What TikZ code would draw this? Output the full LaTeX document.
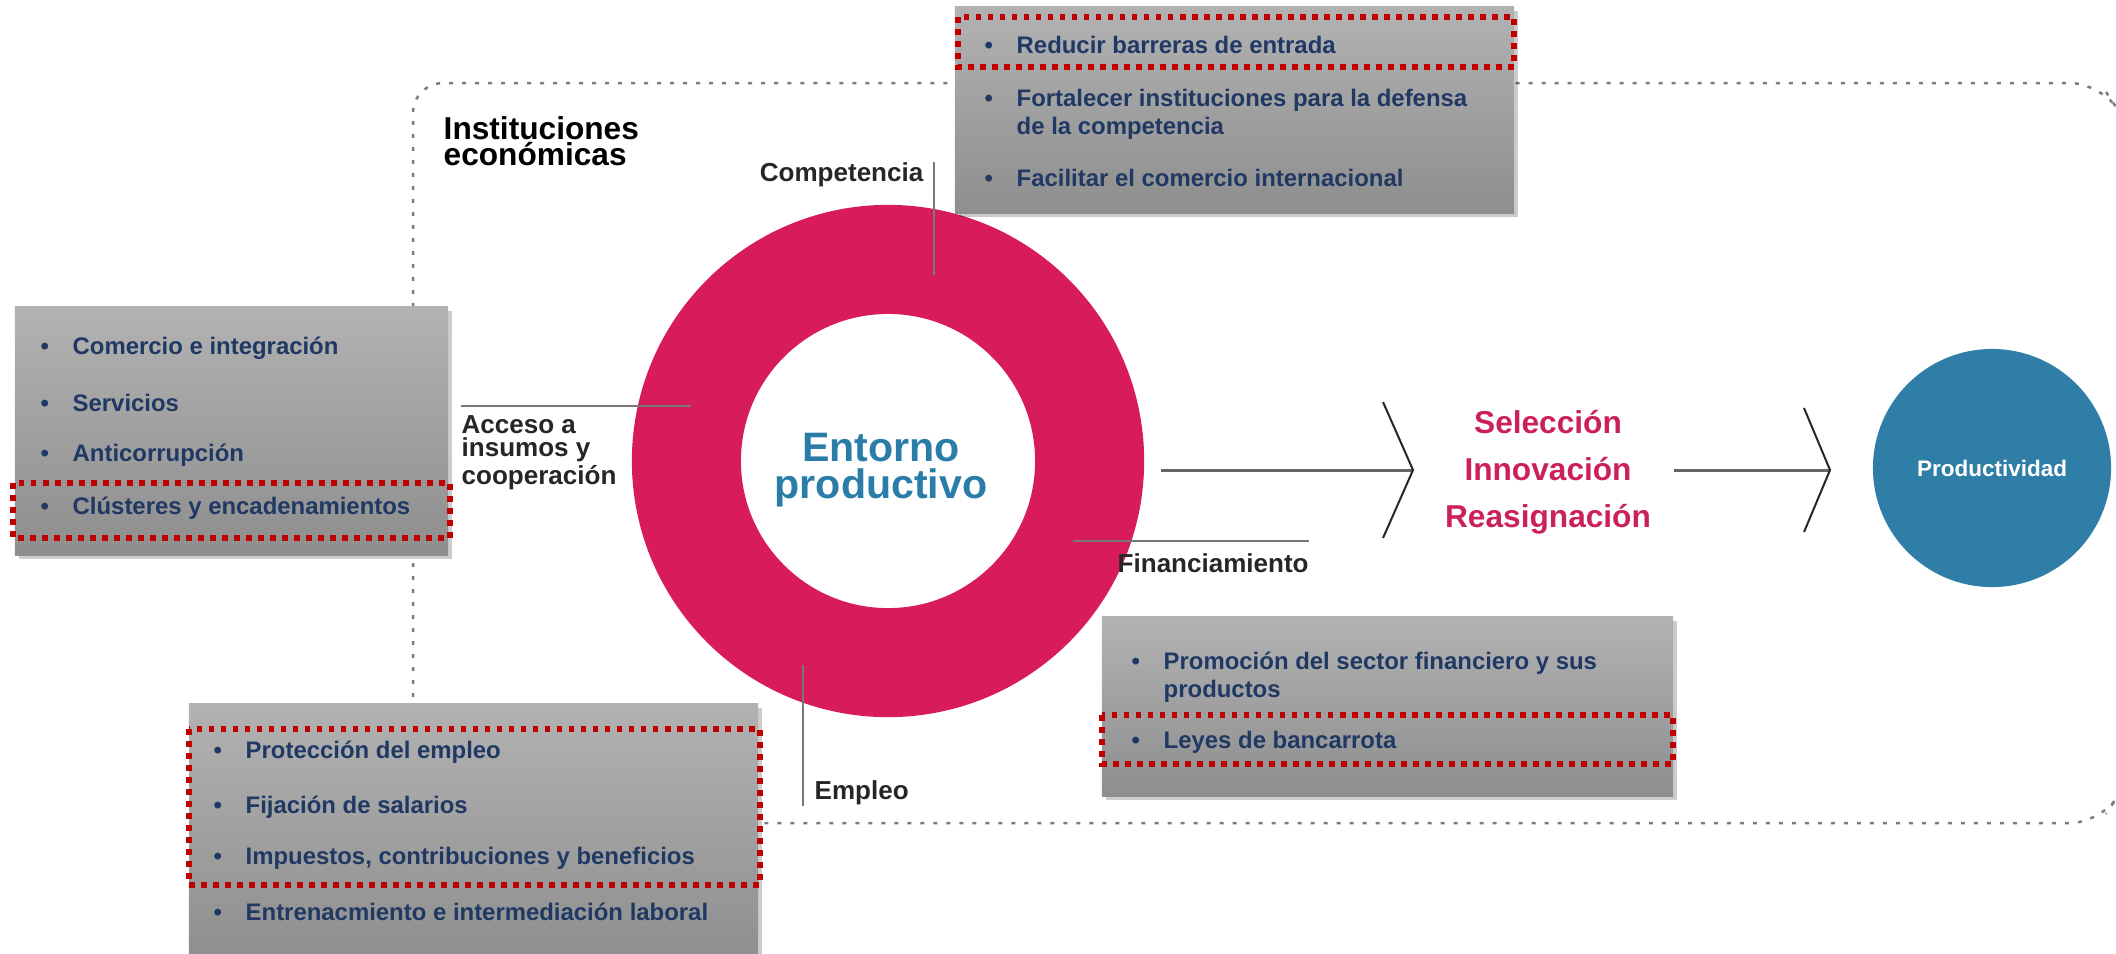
\documentclass[tikz,border=0pt]{standalone}
\usepackage{fontspec}
\setmainfont{Liberation Sans}
\usepackage{tikz}
\usetikzlibrary{shapes.geometric,shadows}

\definecolor{ringred}{RGB}{216,27,91}
\definecolor{entblue}{RGB}{42,125,168}
\definecolor{prodblue}{RGB}{47,126,167}
\definecolor{selred}{RGB}{204,32,92}
\definecolor{navy}{RGB}{31,56,100}
\definecolor{markred}{RGB}{192,0,0}
\definecolor{boxtop}{RGB}{178,178,178}
\definecolor{boxbot}{RGB}{142,142,142}
\definecolor{framegray}{RGB}{125,125,125}
\definecolor{leadgray}{RGB}{120,120,120}

\newcommand{\bul}{\makebox[0.32cm][l]{•}}
\newcommand{\boxfont}{\fontsize{6.8}{8}\selectfont\bfseries}
\newcommand{\lblfont}{\fontsize{7.4}{6.5}\selectfont\bfseries}

\tikzset{
	graybox/.style={rectangle, inner sep=0pt, top color=boxtop, bottom color=boxbot,
		drop shadow={shadow xshift=0.04cm, shadow yshift=-0.04cm, fill=black, opacity=0.2}},
	item/.style={anchor=west, inner sep=0pt, text=navy, font=\boxfont, align=left},
	redmark/.style={draw=markred, line width=0.055cm, dash pattern=on 0.055cm off 0.065cm},
	lbl/.style={inner sep=0pt, font=\lblfont, text=black!85, align=left},
	leader/.style={draw=leadgray, line width=0.02cm},
	flowline/.style={draw=black!60, line width=0.03cm},
	chevron/.style={draw=black!85, line width=0.02cm},
	frameline/.style={draw=framegray, line width=0.025cm, dash pattern=on 0.04cm off 0.09cm},
}

\begin{document}
\begin{tikzpicture}[x=0.01cm, y=-0.01cm]
	\useasboundingbox (0,0) rectangle (2116,953);
	% Frame, ring and labels:
	\draw[frameline, rounded corners=0.3cm] (2106,92) -- (2100,83) -- (413,83) -- (413,823) -- (2100,823) -- (2106,814);
	\node[lbl, anchor=north west, font=\fontsize{9}{7.4}\selectfont\bfseries, text=black] (inst) at (443,116) {Instituciones\\econ\'omicas};
	\node[circle, draw=ringred, line width=1.09cm, minimum size=4.03cm, inner sep=0pt] (ent) at (888,461) {};
	\node[inner sep=0pt, text=entblue, align=center, font=\fontsize{11.7}{10.4}\selectfont\bfseries] (entlbl) at (881,470) {Entorno\\productivo};
	\node[lbl, anchor=east] (comp) at (924,175) {Competencia};
	\node[lbl, anchor=north west] (acc) at (461,415) {Acceso a\\insumos y\\cooperaci\'on};
	\node[lbl, anchor=west] (fin) at (1117,563) {Financiamiento};
	\node[lbl, anchor=west] (emp) at (814,793) {Empleo};
	\coordinate (compend) at (934,275);
	\coordinate (accend) at (691,406);
	\coordinate (finend) at (1073,541);
	\coordinate (empend) at (803,665);
	\draw[leader] (compend) -- (compend |- comp.north);
	\draw[leader] (accend) -- (accend -| acc.west);
	\draw[leader] (finend) -- (finend -| fin.east);
	\draw[leader] (empend) -- (empend |- emp.south);

	% Boxes:
	\node[graybox, minimum width=5.59cm, minimum height=2.06cm] (compbox) at (1234.5,110) {};
	\draw[redmark] (958,17) rectangle (1514,67);
	\node[item] (c1) at (984,45) {\bul Reducir barreras de entrada};
	\node[item] (c2) at (984,114) {\bul Fortalecer instituciones para la defensa\\\hspace*{0.32cm}de la competencia};
	\node[item] (c3) at (984,178) {\bul Facilitar el comercio internacional};

	\node[graybox, minimum width=4.33cm, minimum height=2.48cm] (accbox) at (231.5,431) {};
	\draw[redmark] (13,483) rectangle (450,538);
	\node[item] (a1) at (40,348) {\bul Comercio e integraci\'on};
	\node[item] (a2) at (40,403) {\bul Servicios};
	\node[item] (a3) at (40,455) {\bul Anticorrupci\'on};
	\node[item] (a4) at (40,508) {\bul Cl\'usteres y encadenamientos};

	\node[graybox, minimum width=5.69cm, minimum height=2.6cm] (empbox) at (473.5,834) {};
	\draw[redmark] (189,729) rectangle (760,885);
	\node[item] (e1) at (213,752) {\bul Protecci\'on del empleo};
	\node[item] (e2) at (213,807) {\bul Fijaci\'on de salarios};
	\node[item] (e3) at (213,858) {\bul Impuestos, contribuciones y beneficios};
	\node[item] (e4) at (213,912) {\bul Entrenacmiento e intermediaci\'on laboral};

	\node[graybox, minimum width=5.71cm, minimum height=1.79cm] (finbox) at (1387.5,706.5) {};
	\draw[redmark] (1102,715) rectangle (1673,764);
	\node[item] (f1) at (1131,677) {\bul Promoci\'on del sector financiero y sus\\\hspace*{0.32cm}productos};
	\node[item] (f2) at (1131,742) {\bul Leyes de bancarrota};

	% Flow to productividad:
	\node[align=center, inner sep=0pt, text=selred, font=\fontsize{9}{13.4}\selectfont\bfseries] (sel) at (1548,472) {Selecci\'on\\Innovaci\'on\\Reasignaci\'on};
	\node[circle, fill=prodblue, minimum size=2.38cm, inner sep=0pt, text=white, font=\fontsize{6.4}{7}\selectfont\bfseries] (prod) at (1992,468) {Productividad};
	\coordinate (t1) at (1413,470);
	\coordinate (t2) at (1830,470);
	\draw[flowline] ([xshift=0.17cm]ent.east |- t1) -- (t1);
	\draw[chevron] (t1) ++(-30,-68) -- (t1) -- ++(-30,68);
	\draw[flowline] ([xshift=0.22cm]sel.east |- t2) -- (t2);
	\draw[chevron] (t2) ++(-26,-62) -- (t2) -- ++(-26,62);
\end{tikzpicture}
\end{document}
